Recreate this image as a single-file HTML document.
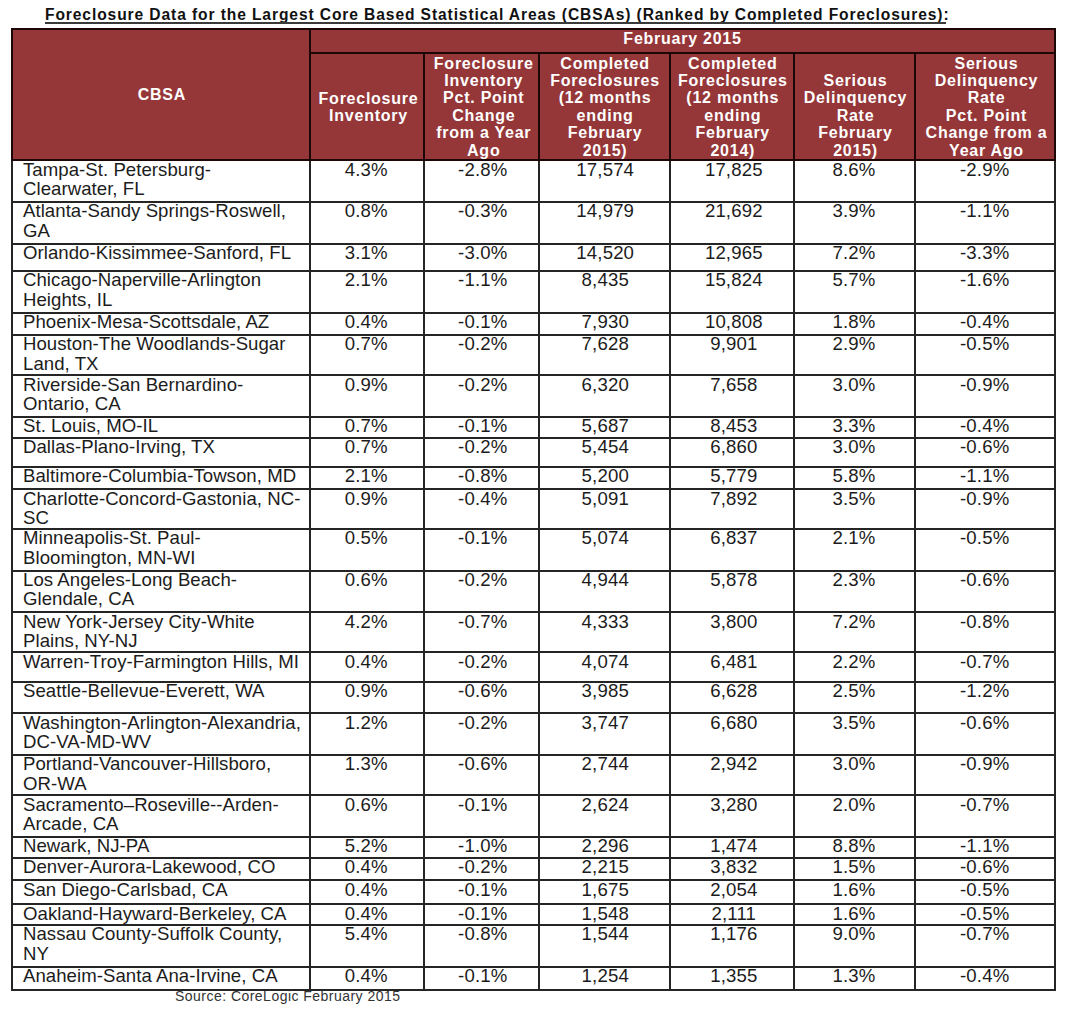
<!DOCTYPE html>
<html><head><meta charset="utf-8"><title>Foreclosure Data</title>
<style>
html,body{margin:0;padding:0;background:#fff;}
body{width:1071px;height:1013px;overflow:hidden;position:relative;font-family:"Liberation Sans",sans-serif;}
div{position:absolute;white-space:nowrap;}
.fill{background:#953638;}
.ln{background:#252525;}
.lh{background:#1c0606;}
.title{font-weight:bold;font-size:15.6px;line-height:15.6px;letter-spacing:0.895px;color:#111;}
.hd{font-weight:bold;font-size:16.0px;line-height:16.0px;letter-spacing:0.75px;color:#fff;}
.nm{font-size:18.6px;line-height:18.6px;letter-spacing:0.05px;color:#1c1c1c;}
.dt{font-size:18.6px;line-height:18.6px;letter-spacing:0.15px;color:#1c1c1c;}
.ft{font-size:14px;line-height:14px;letter-spacing:0.47px;color:#333;}
</style></head><body>
<div class="title" style="left:45.00px;top:6.59px">Foreclosure Data for the Largest Core Based Statistical Areas (CBSAs) (Ranked by Completed Foreclosures):</div>
<div style="left:45px;top:22px;width:901px;height:2px;background:#3a3a3a"></div>
<div class="fill" style="left:11.80px;top:29px;width:1043.20px;height:131.00px"></div>
<div class="ln" style="left:10.80px;top:159.00px;width:2px;height:831.50px"></div>
<div class="lh" style="left:10.80px;top:28.00px;width:2px;height:133.00px"></div>
<div class="ln" style="left:309.00px;top:159.00px;width:2px;height:831.50px"></div>
<div class="lh" style="left:309.00px;top:28.00px;width:2px;height:133.00px"></div>
<div class="ln" style="left:1054.00px;top:159.00px;width:2px;height:831.50px"></div>
<div class="lh" style="left:1054.00px;top:28.00px;width:2px;height:133.00px"></div>
<div class="ln" style="left:423.00px;top:159.00px;width:2px;height:831.50px"></div>
<div class="lh" style="left:423.00px;top:51.60px;width:2px;height:109.40px"></div>
<div class="ln" style="left:537.50px;top:159.00px;width:2px;height:831.50px"></div>
<div class="lh" style="left:537.50px;top:51.60px;width:2px;height:109.40px"></div>
<div class="ln" style="left:668.60px;top:159.00px;width:2px;height:831.50px"></div>
<div class="lh" style="left:668.60px;top:51.60px;width:2px;height:109.40px"></div>
<div class="ln" style="left:793.00px;top:159.00px;width:2px;height:831.50px"></div>
<div class="lh" style="left:793.00px;top:51.60px;width:2px;height:109.40px"></div>
<div class="ln" style="left:914.00px;top:159.00px;width:2px;height:831.50px"></div>
<div class="lh" style="left:914.00px;top:51.60px;width:2px;height:109.40px"></div>
<div class="lh" style="left:10.80px;top:28.00px;width:1045.20px;height:2px"></div>
<div class="lh" style="left:309.00px;top:51.60px;width:747.00px;height:2px"></div>
<div class="lh" style="left:10.80px;top:159.00px;width:1045.20px;height:2px"></div>
<div class="ln" style="left:10.80px;top:200.90px;width:1045.20px;height:2px"></div>
<div class="ln" style="left:10.80px;top:242.80px;width:1045.20px;height:2px"></div>
<div class="ln" style="left:10.80px;top:269.80px;width:1045.20px;height:2px"></div>
<div class="ln" style="left:10.80px;top:311.60px;width:1045.20px;height:2px"></div>
<div class="ln" style="left:10.80px;top:333.80px;width:1045.20px;height:2px"></div>
<div class="ln" style="left:10.80px;top:374.20px;width:1045.20px;height:2px"></div>
<div class="ln" style="left:10.80px;top:415.80px;width:1045.20px;height:2px"></div>
<div class="ln" style="left:10.80px;top:436.60px;width:1045.20px;height:2px"></div>
<div class="ln" style="left:10.80px;top:465.50px;width:1045.20px;height:2px"></div>
<div class="ln" style="left:10.80px;top:488.00px;width:1045.20px;height:2px"></div>
<div class="ln" style="left:10.80px;top:527.90px;width:1045.20px;height:2px"></div>
<div class="ln" style="left:10.80px;top:569.70px;width:1045.20px;height:2px"></div>
<div class="ln" style="left:10.80px;top:611.40px;width:1045.20px;height:2px"></div>
<div class="ln" style="left:10.80px;top:651.40px;width:1045.20px;height:2px"></div>
<div class="ln" style="left:10.80px;top:680.50px;width:1045.20px;height:2px"></div>
<div class="ln" style="left:10.80px;top:712.20px;width:1045.20px;height:2px"></div>
<div class="ln" style="left:10.80px;top:753.90px;width:1045.20px;height:2px"></div>
<div class="ln" style="left:10.80px;top:794.00px;width:1045.20px;height:2px"></div>
<div class="ln" style="left:10.80px;top:835.60px;width:1045.20px;height:2px"></div>
<div class="ln" style="left:10.80px;top:856.90px;width:1045.20px;height:2px"></div>
<div class="ln" style="left:10.80px;top:879.00px;width:1045.20px;height:2px"></div>
<div class="ln" style="left:10.80px;top:903.10px;width:1045.20px;height:2px"></div>
<div class="ln" style="left:10.80px;top:923.90px;width:1045.20px;height:2px"></div>
<div class="ln" style="left:10.80px;top:965.80px;width:1045.20px;height:2px"></div>
<div class="ln" style="left:10.80px;top:988.50px;width:1045.20px;height:2px"></div>
<div class="hd" style="left:12.80px;width:298.20px;top:87.46px;text-align:center">CBSA</div>
<div class="hd" style="left:310.00px;width:745.00px;top:31.36px;text-align:center">February 2015</div>
<div class="hd" style="left:311.50px;width:114.00px;top:90.76px;text-align:center">Foreclosure</div>
<div class="hd" style="left:311.50px;width:114.00px;top:108.16px;text-align:center">Inventory</div>
<div class="hd" style="left:426.50px;width:114.50px;top:55.56px;text-align:center">Foreclosure</div>
<div class="hd" style="left:426.50px;width:114.50px;top:72.96px;text-align:center">Inventory</div>
<div class="hd" style="left:426.50px;width:114.50px;top:90.26px;text-align:center">Pct. Point</div>
<div class="hd" style="left:426.50px;width:114.50px;top:107.66px;text-align:center">Change</div>
<div class="hd" style="left:426.50px;width:114.50px;top:125.06px;text-align:center">from a Year</div>
<div class="hd" style="left:426.50px;width:114.50px;top:142.56px;text-align:center">Ago</div>
<div class="hd" style="left:539.50px;width:131.10px;top:55.56px;text-align:center">Completed</div>
<div class="hd" style="left:539.50px;width:131.10px;top:72.96px;text-align:center">Foreclosures</div>
<div class="hd" style="left:539.50px;width:131.10px;top:90.26px;text-align:center">(12 months</div>
<div class="hd" style="left:539.50px;width:131.10px;top:107.66px;text-align:center">ending</div>
<div class="hd" style="left:539.50px;width:131.10px;top:125.06px;text-align:center">February</div>
<div class="hd" style="left:539.50px;width:131.10px;top:142.56px;text-align:center">2015)</div>
<div class="hd" style="left:670.60px;width:124.40px;top:55.56px;text-align:center">Completed</div>
<div class="hd" style="left:670.60px;width:124.40px;top:72.96px;text-align:center">Foreclosures</div>
<div class="hd" style="left:670.60px;width:124.40px;top:90.26px;text-align:center">(12 months</div>
<div class="hd" style="left:670.60px;width:124.40px;top:107.66px;text-align:center">ending</div>
<div class="hd" style="left:670.60px;width:124.40px;top:125.06px;text-align:center">February</div>
<div class="hd" style="left:670.60px;width:124.40px;top:142.56px;text-align:center">2014)</div>
<div class="hd" style="left:795.00px;width:121.00px;top:72.96px;text-align:center">Serious</div>
<div class="hd" style="left:795.00px;width:121.00px;top:90.26px;text-align:center">Delinquency</div>
<div class="hd" style="left:795.00px;width:121.00px;top:107.66px;text-align:center">Rate</div>
<div class="hd" style="left:795.00px;width:121.00px;top:125.06px;text-align:center">February</div>
<div class="hd" style="left:795.00px;width:121.00px;top:142.56px;text-align:center">2015)</div>
<div class="hd" style="left:916.50px;width:140.00px;top:55.56px;text-align:center">Serious</div>
<div class="hd" style="left:916.50px;width:140.00px;top:72.96px;text-align:center">Delinquency</div>
<div class="hd" style="left:916.50px;width:140.00px;top:90.26px;text-align:center">Rate</div>
<div class="hd" style="left:916.50px;width:140.00px;top:107.66px;text-align:center">Pct. Point</div>
<div class="hd" style="left:916.50px;width:140.00px;top:125.06px;text-align:center">Change from a</div>
<div class="hd" style="left:916.50px;width:140.00px;top:142.56px;text-align:center">Year Ago</div>
<div class="nm" style="left:23.00px;top:160.56px">Tampa-St. Petersburg-</div>
<div class="nm" style="left:23.00px;top:179.76px">Clearwater, FL</div>
<div class="dt" style="left:309.20px;width:114.00px;top:160.56px;text-align:center">4.3%</div>
<div class="dt" style="left:425.50px;width:114.50px;top:160.56px;text-align:center">-2.8%</div>
<div class="dt" style="left:539.70px;width:131.10px;top:160.56px;text-align:center">17,574</div>
<div class="dt" style="left:671.60px;width:124.40px;top:160.56px;text-align:center">17,825</div>
<div class="dt" style="left:793.50px;width:121.00px;top:160.56px;text-align:center">8.6%</div>
<div class="dt" style="left:914.70px;width:140.00px;top:160.56px;text-align:center">-2.9%</div>
<div class="nm" style="left:23.00px;top:202.46px">Atlanta-Sandy Springs-Roswell,</div>
<div class="nm" style="left:23.00px;top:221.66px">GA</div>
<div class="dt" style="left:309.20px;width:114.00px;top:202.46px;text-align:center">0.8%</div>
<div class="dt" style="left:425.50px;width:114.50px;top:202.46px;text-align:center">-0.3%</div>
<div class="dt" style="left:539.70px;width:131.10px;top:202.46px;text-align:center">14,979</div>
<div class="dt" style="left:671.60px;width:124.40px;top:202.46px;text-align:center">21,692</div>
<div class="dt" style="left:793.50px;width:121.00px;top:202.46px;text-align:center">3.9%</div>
<div class="dt" style="left:914.70px;width:140.00px;top:202.46px;text-align:center">-1.1%</div>
<div class="nm" style="left:23.00px;top:244.36px">Orlando-Kissimmee-Sanford, FL</div>
<div class="dt" style="left:309.20px;width:114.00px;top:244.36px;text-align:center">3.1%</div>
<div class="dt" style="left:425.50px;width:114.50px;top:244.36px;text-align:center">-3.0%</div>
<div class="dt" style="left:539.70px;width:131.10px;top:244.36px;text-align:center">14,520</div>
<div class="dt" style="left:671.60px;width:124.40px;top:244.36px;text-align:center">12,965</div>
<div class="dt" style="left:793.50px;width:121.00px;top:244.36px;text-align:center">7.2%</div>
<div class="dt" style="left:914.70px;width:140.00px;top:244.36px;text-align:center">-3.3%</div>
<div class="nm" style="left:23.00px;top:271.36px">Chicago-Naperville-Arlington</div>
<div class="nm" style="left:23.00px;top:290.56px">Heights, IL</div>
<div class="dt" style="left:309.20px;width:114.00px;top:271.36px;text-align:center">2.1%</div>
<div class="dt" style="left:425.50px;width:114.50px;top:271.36px;text-align:center">-1.1%</div>
<div class="dt" style="left:539.70px;width:131.10px;top:271.36px;text-align:center">8,435</div>
<div class="dt" style="left:671.60px;width:124.40px;top:271.36px;text-align:center">15,824</div>
<div class="dt" style="left:793.50px;width:121.00px;top:271.36px;text-align:center">5.7%</div>
<div class="dt" style="left:914.70px;width:140.00px;top:271.36px;text-align:center">-1.6%</div>
<div class="nm" style="left:23.00px;top:313.16px">Phoenix-Mesa-Scottsdale, AZ</div>
<div class="dt" style="left:309.20px;width:114.00px;top:313.16px;text-align:center">0.4%</div>
<div class="dt" style="left:425.50px;width:114.50px;top:313.16px;text-align:center">-0.1%</div>
<div class="dt" style="left:539.70px;width:131.10px;top:313.16px;text-align:center">7,930</div>
<div class="dt" style="left:671.60px;width:124.40px;top:313.16px;text-align:center">10,808</div>
<div class="dt" style="left:793.50px;width:121.00px;top:313.16px;text-align:center">1.8%</div>
<div class="dt" style="left:914.70px;width:140.00px;top:313.16px;text-align:center">-0.4%</div>
<div class="nm" style="left:23.00px;top:335.36px">Houston-The Woodlands-Sugar</div>
<div class="nm" style="left:23.00px;top:354.56px">Land, TX</div>
<div class="dt" style="left:309.20px;width:114.00px;top:335.36px;text-align:center">0.7%</div>
<div class="dt" style="left:425.50px;width:114.50px;top:335.36px;text-align:center">-0.2%</div>
<div class="dt" style="left:539.70px;width:131.10px;top:335.36px;text-align:center">7,628</div>
<div class="dt" style="left:671.60px;width:124.40px;top:335.36px;text-align:center">9,901</div>
<div class="dt" style="left:793.50px;width:121.00px;top:335.36px;text-align:center">2.9%</div>
<div class="dt" style="left:914.70px;width:140.00px;top:335.36px;text-align:center">-0.5%</div>
<div class="nm" style="left:23.00px;top:375.76px">Riverside-San Bernardino-</div>
<div class="nm" style="left:23.00px;top:394.96px">Ontario, CA</div>
<div class="dt" style="left:309.20px;width:114.00px;top:375.76px;text-align:center">0.9%</div>
<div class="dt" style="left:425.50px;width:114.50px;top:375.76px;text-align:center">-0.2%</div>
<div class="dt" style="left:539.70px;width:131.10px;top:375.76px;text-align:center">6,320</div>
<div class="dt" style="left:671.60px;width:124.40px;top:375.76px;text-align:center">7,658</div>
<div class="dt" style="left:793.50px;width:121.00px;top:375.76px;text-align:center">3.0%</div>
<div class="dt" style="left:914.70px;width:140.00px;top:375.76px;text-align:center">-0.9%</div>
<div class="nm" style="left:23.00px;top:417.36px">St. Louis, MO-IL</div>
<div class="dt" style="left:309.20px;width:114.00px;top:417.36px;text-align:center">0.7%</div>
<div class="dt" style="left:425.50px;width:114.50px;top:417.36px;text-align:center">-0.1%</div>
<div class="dt" style="left:539.70px;width:131.10px;top:417.36px;text-align:center">5,687</div>
<div class="dt" style="left:671.60px;width:124.40px;top:417.36px;text-align:center">8,453</div>
<div class="dt" style="left:793.50px;width:121.00px;top:417.36px;text-align:center">3.3%</div>
<div class="dt" style="left:914.70px;width:140.00px;top:417.36px;text-align:center">-0.4%</div>
<div class="nm" style="left:23.00px;top:438.16px">Dallas-Plano-Irving, TX</div>
<div class="dt" style="left:309.20px;width:114.00px;top:438.16px;text-align:center">0.7%</div>
<div class="dt" style="left:425.50px;width:114.50px;top:438.16px;text-align:center">-0.2%</div>
<div class="dt" style="left:539.70px;width:131.10px;top:438.16px;text-align:center">5,454</div>
<div class="dt" style="left:671.60px;width:124.40px;top:438.16px;text-align:center">6,860</div>
<div class="dt" style="left:793.50px;width:121.00px;top:438.16px;text-align:center">3.0%</div>
<div class="dt" style="left:914.70px;width:140.00px;top:438.16px;text-align:center">-0.6%</div>
<div class="nm" style="left:23.00px;top:467.06px">Baltimore-Columbia-Towson, MD</div>
<div class="dt" style="left:309.20px;width:114.00px;top:467.06px;text-align:center">2.1%</div>
<div class="dt" style="left:425.50px;width:114.50px;top:467.06px;text-align:center">-0.8%</div>
<div class="dt" style="left:539.70px;width:131.10px;top:467.06px;text-align:center">5,200</div>
<div class="dt" style="left:671.60px;width:124.40px;top:467.06px;text-align:center">5,779</div>
<div class="dt" style="left:793.50px;width:121.00px;top:467.06px;text-align:center">5.8%</div>
<div class="dt" style="left:914.70px;width:140.00px;top:467.06px;text-align:center">-1.1%</div>
<div class="nm" style="left:23.00px;top:489.56px">Charlotte-Concord-Gastonia, NC-</div>
<div class="nm" style="left:23.00px;top:508.76px">SC</div>
<div class="dt" style="left:309.20px;width:114.00px;top:489.56px;text-align:center">0.9%</div>
<div class="dt" style="left:425.50px;width:114.50px;top:489.56px;text-align:center">-0.4%</div>
<div class="dt" style="left:539.70px;width:131.10px;top:489.56px;text-align:center">5,091</div>
<div class="dt" style="left:671.60px;width:124.40px;top:489.56px;text-align:center">7,892</div>
<div class="dt" style="left:793.50px;width:121.00px;top:489.56px;text-align:center">3.5%</div>
<div class="dt" style="left:914.70px;width:140.00px;top:489.56px;text-align:center">-0.9%</div>
<div class="nm" style="left:23.00px;top:529.46px">Minneapolis-St. Paul-</div>
<div class="nm" style="left:23.00px;top:548.66px">Bloomington, MN-WI</div>
<div class="dt" style="left:309.20px;width:114.00px;top:529.46px;text-align:center">0.5%</div>
<div class="dt" style="left:425.50px;width:114.50px;top:529.46px;text-align:center">-0.1%</div>
<div class="dt" style="left:539.70px;width:131.10px;top:529.46px;text-align:center">5,074</div>
<div class="dt" style="left:671.60px;width:124.40px;top:529.46px;text-align:center">6,837</div>
<div class="dt" style="left:793.50px;width:121.00px;top:529.46px;text-align:center">2.1%</div>
<div class="dt" style="left:914.70px;width:140.00px;top:529.46px;text-align:center">-0.5%</div>
<div class="nm" style="left:23.00px;top:571.26px">Los Angeles-Long Beach-</div>
<div class="nm" style="left:23.00px;top:590.46px">Glendale, CA</div>
<div class="dt" style="left:309.20px;width:114.00px;top:571.26px;text-align:center">0.6%</div>
<div class="dt" style="left:425.50px;width:114.50px;top:571.26px;text-align:center">-0.2%</div>
<div class="dt" style="left:539.70px;width:131.10px;top:571.26px;text-align:center">4,944</div>
<div class="dt" style="left:671.60px;width:124.40px;top:571.26px;text-align:center">5,878</div>
<div class="dt" style="left:793.50px;width:121.00px;top:571.26px;text-align:center">2.3%</div>
<div class="dt" style="left:914.70px;width:140.00px;top:571.26px;text-align:center">-0.6%</div>
<div class="nm" style="left:23.00px;top:612.96px">New York-Jersey City-White</div>
<div class="nm" style="left:23.00px;top:632.16px">Plains, NY-NJ</div>
<div class="dt" style="left:309.20px;width:114.00px;top:612.96px;text-align:center">4.2%</div>
<div class="dt" style="left:425.50px;width:114.50px;top:612.96px;text-align:center">-0.7%</div>
<div class="dt" style="left:539.70px;width:131.10px;top:612.96px;text-align:center">4,333</div>
<div class="dt" style="left:671.60px;width:124.40px;top:612.96px;text-align:center">3,800</div>
<div class="dt" style="left:793.50px;width:121.00px;top:612.96px;text-align:center">7.2%</div>
<div class="dt" style="left:914.70px;width:140.00px;top:612.96px;text-align:center">-0.8%</div>
<div class="nm" style="left:23.00px;top:652.96px">Warren-Troy-Farmington Hills, MI</div>
<div class="dt" style="left:309.20px;width:114.00px;top:652.96px;text-align:center">0.4%</div>
<div class="dt" style="left:425.50px;width:114.50px;top:652.96px;text-align:center">-0.2%</div>
<div class="dt" style="left:539.70px;width:131.10px;top:652.96px;text-align:center">4,074</div>
<div class="dt" style="left:671.60px;width:124.40px;top:652.96px;text-align:center">6,481</div>
<div class="dt" style="left:793.50px;width:121.00px;top:652.96px;text-align:center">2.2%</div>
<div class="dt" style="left:914.70px;width:140.00px;top:652.96px;text-align:center">-0.7%</div>
<div class="nm" style="left:23.00px;top:682.06px">Seattle-Bellevue-Everett, WA</div>
<div class="dt" style="left:309.20px;width:114.00px;top:682.06px;text-align:center">0.9%</div>
<div class="dt" style="left:425.50px;width:114.50px;top:682.06px;text-align:center">-0.6%</div>
<div class="dt" style="left:539.70px;width:131.10px;top:682.06px;text-align:center">3,985</div>
<div class="dt" style="left:671.60px;width:124.40px;top:682.06px;text-align:center">6,628</div>
<div class="dt" style="left:793.50px;width:121.00px;top:682.06px;text-align:center">2.5%</div>
<div class="dt" style="left:914.70px;width:140.00px;top:682.06px;text-align:center">-1.2%</div>
<div class="nm" style="left:23.00px;top:713.76px">Washington-Arlington-Alexandria,</div>
<div class="nm" style="left:23.00px;top:732.96px">DC-VA-MD-WV</div>
<div class="dt" style="left:309.20px;width:114.00px;top:713.76px;text-align:center">1.2%</div>
<div class="dt" style="left:425.50px;width:114.50px;top:713.76px;text-align:center">-0.2%</div>
<div class="dt" style="left:539.70px;width:131.10px;top:713.76px;text-align:center">3,747</div>
<div class="dt" style="left:671.60px;width:124.40px;top:713.76px;text-align:center">6,680</div>
<div class="dt" style="left:793.50px;width:121.00px;top:713.76px;text-align:center">3.5%</div>
<div class="dt" style="left:914.70px;width:140.00px;top:713.76px;text-align:center">-0.6%</div>
<div class="nm" style="left:23.00px;top:755.46px">Portland-Vancouver-Hillsboro,</div>
<div class="nm" style="left:23.00px;top:774.66px">OR-WA</div>
<div class="dt" style="left:309.20px;width:114.00px;top:755.46px;text-align:center">1.3%</div>
<div class="dt" style="left:425.50px;width:114.50px;top:755.46px;text-align:center">-0.6%</div>
<div class="dt" style="left:539.70px;width:131.10px;top:755.46px;text-align:center">2,744</div>
<div class="dt" style="left:671.60px;width:124.40px;top:755.46px;text-align:center">2,942</div>
<div class="dt" style="left:793.50px;width:121.00px;top:755.46px;text-align:center">3.0%</div>
<div class="dt" style="left:914.70px;width:140.00px;top:755.46px;text-align:center">-0.9%</div>
<div class="nm" style="left:23.00px;top:795.56px">Sacramento–Roseville--Arden-</div>
<div class="nm" style="left:23.00px;top:814.76px">Arcade, CA</div>
<div class="dt" style="left:309.20px;width:114.00px;top:795.56px;text-align:center">0.6%</div>
<div class="dt" style="left:425.50px;width:114.50px;top:795.56px;text-align:center">-0.1%</div>
<div class="dt" style="left:539.70px;width:131.10px;top:795.56px;text-align:center">2,624</div>
<div class="dt" style="left:671.60px;width:124.40px;top:795.56px;text-align:center">3,280</div>
<div class="dt" style="left:793.50px;width:121.00px;top:795.56px;text-align:center">2.0%</div>
<div class="dt" style="left:914.70px;width:140.00px;top:795.56px;text-align:center">-0.7%</div>
<div class="nm" style="left:23.00px;top:837.16px">Newark, NJ-PA</div>
<div class="dt" style="left:309.20px;width:114.00px;top:837.16px;text-align:center">5.2%</div>
<div class="dt" style="left:425.50px;width:114.50px;top:837.16px;text-align:center">-1.0%</div>
<div class="dt" style="left:539.70px;width:131.10px;top:837.16px;text-align:center">2,296</div>
<div class="dt" style="left:671.60px;width:124.40px;top:837.16px;text-align:center">1,474</div>
<div class="dt" style="left:793.50px;width:121.00px;top:837.16px;text-align:center">8.8%</div>
<div class="dt" style="left:914.70px;width:140.00px;top:837.16px;text-align:center">-1.1%</div>
<div class="nm" style="left:23.00px;top:858.46px">Denver-Aurora-Lakewood, CO</div>
<div class="dt" style="left:309.20px;width:114.00px;top:858.46px;text-align:center">0.4%</div>
<div class="dt" style="left:425.50px;width:114.50px;top:858.46px;text-align:center">-0.2%</div>
<div class="dt" style="left:539.70px;width:131.10px;top:858.46px;text-align:center">2,215</div>
<div class="dt" style="left:671.60px;width:124.40px;top:858.46px;text-align:center">3,832</div>
<div class="dt" style="left:793.50px;width:121.00px;top:858.46px;text-align:center">1.5%</div>
<div class="dt" style="left:914.70px;width:140.00px;top:858.46px;text-align:center">-0.6%</div>
<div class="nm" style="left:23.00px;top:880.56px">San Diego-Carlsbad, CA</div>
<div class="dt" style="left:309.20px;width:114.00px;top:880.56px;text-align:center">0.4%</div>
<div class="dt" style="left:425.50px;width:114.50px;top:880.56px;text-align:center">-0.1%</div>
<div class="dt" style="left:539.70px;width:131.10px;top:880.56px;text-align:center">1,675</div>
<div class="dt" style="left:671.60px;width:124.40px;top:880.56px;text-align:center">2,054</div>
<div class="dt" style="left:793.50px;width:121.00px;top:880.56px;text-align:center">1.6%</div>
<div class="dt" style="left:914.70px;width:140.00px;top:880.56px;text-align:center">-0.5%</div>
<div class="nm" style="left:23.00px;top:904.66px">Oakland-Hayward-Berkeley, CA</div>
<div class="dt" style="left:309.20px;width:114.00px;top:904.66px;text-align:center">0.4%</div>
<div class="dt" style="left:425.50px;width:114.50px;top:904.66px;text-align:center">-0.1%</div>
<div class="dt" style="left:539.70px;width:131.10px;top:904.66px;text-align:center">1,548</div>
<div class="dt" style="left:671.60px;width:124.40px;top:904.66px;text-align:center">2,111</div>
<div class="dt" style="left:793.50px;width:121.00px;top:904.66px;text-align:center">1.6%</div>
<div class="dt" style="left:914.70px;width:140.00px;top:904.66px;text-align:center">-0.5%</div>
<div class="nm" style="left:23.00px;top:925.46px">Nassau County-Suffolk County,</div>
<div class="nm" style="left:23.00px;top:944.66px">NY</div>
<div class="dt" style="left:309.20px;width:114.00px;top:925.46px;text-align:center">5.4%</div>
<div class="dt" style="left:425.50px;width:114.50px;top:925.46px;text-align:center">-0.8%</div>
<div class="dt" style="left:539.70px;width:131.10px;top:925.46px;text-align:center">1,544</div>
<div class="dt" style="left:671.60px;width:124.40px;top:925.46px;text-align:center">1,176</div>
<div class="dt" style="left:793.50px;width:121.00px;top:925.46px;text-align:center">9.0%</div>
<div class="dt" style="left:914.70px;width:140.00px;top:925.46px;text-align:center">-0.7%</div>
<div class="nm" style="left:23.00px;top:967.36px">Anaheim-Santa Ana-Irvine, CA</div>
<div class="dt" style="left:309.20px;width:114.00px;top:967.36px;text-align:center">0.4%</div>
<div class="dt" style="left:425.50px;width:114.50px;top:967.36px;text-align:center">-0.1%</div>
<div class="dt" style="left:539.70px;width:131.10px;top:967.36px;text-align:center">1,254</div>
<div class="dt" style="left:671.60px;width:124.40px;top:967.36px;text-align:center">1,355</div>
<div class="dt" style="left:793.50px;width:121.00px;top:967.36px;text-align:center">1.3%</div>
<div class="dt" style="left:914.70px;width:140.00px;top:967.36px;text-align:center">-0.4%</div>
<div class="ft" style="left:175.00px;top:989.15px">Source: CoreLogic February 2015</div>
</body></html>
